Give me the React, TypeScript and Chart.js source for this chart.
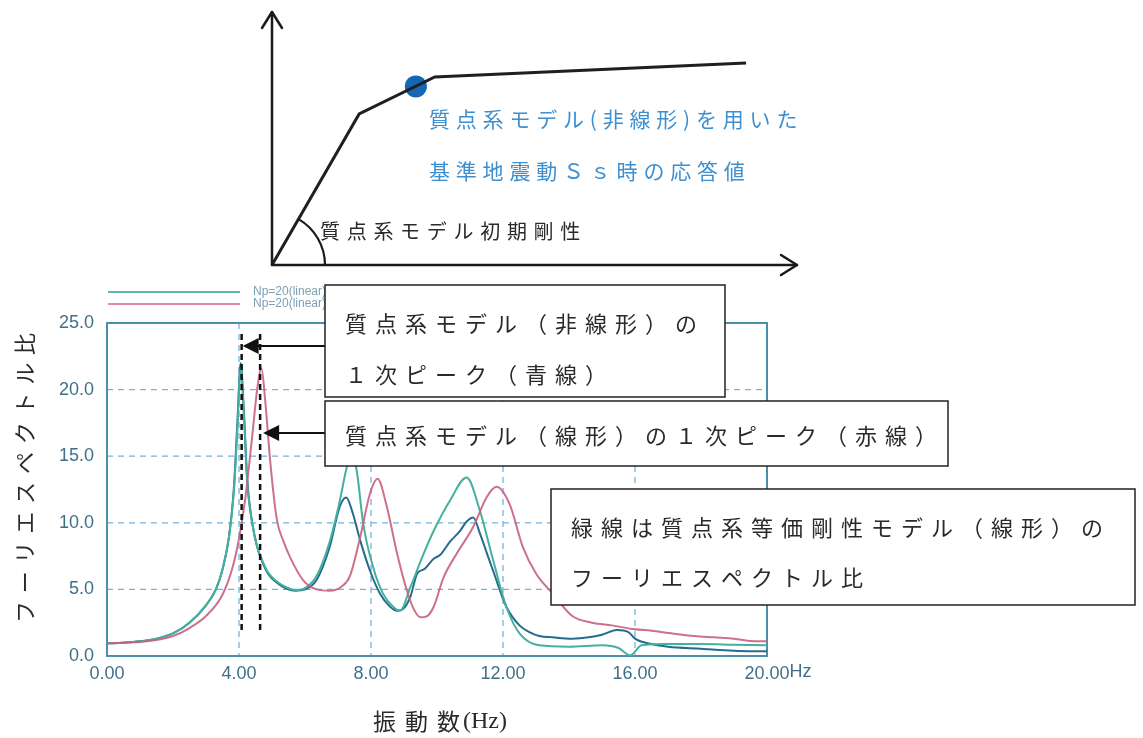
import React, { useEffect, useRef } from "react";
import { Chart, registerables } from "chart.js";
Chart.register(...registerables);

// ---------- data ----------
const freqTicks = [0, 4, 8, 12, 16, 20];
const ratioTicks = [0, 5, 10, 15, 20, 25];

// green: equivalent-stiffness linear model
const greenHz = [0, 0.5, 1, 1.5, 2, 2.5, 3, 3.3, 3.5, 3.7, 3.85, 3.95, 4.05, 4.15, 4.25, 4.4, 4.55, 4.7, 4.9, 5.15, 5.4, 5.7, 6.0, 6.35, 6.75, 7.05, 7.25, 7.42, 7.58, 7.76, 8.06, 8.36, 8.67, 8.88, 9.2, 9.55, 9.9, 10.4, 10.9, 11.3, 11.7, 12.1, 12.5, 13.1, 14, 15, 15.5, 15.85, 16.2, 17, 18, 19, 20];
const greenRatio = [0.95, 1.0, 1.1, 1.3, 1.7, 2.5, 3.8, 5.0, 6.5, 9.0, 12.5, 17, 21.6, 18, 13, 10, 8.2, 7.2, 6.2, 5.6, 5.2, 4.95, 5.1, 6.0, 8.6, 11.6, 14.0, 15.3, 13.7, 10.0, 6.7, 4.7, 3.7, 3.4, 5.2, 7.4, 9.4, 11.7, 13.4, 10.9, 7.2, 3.7, 1.7, 0.8, 0.7, 0.8, 0.6, 0.05, 0.8, 0.9, 0.9, 0.85, 0.8];

// blue: nonlinear model
const blueHz = [0, 0.5, 1, 1.5, 2, 2.5, 3, 3.3, 3.5, 3.7, 3.85, 3.95, 4.05, 4.15, 4.25, 4.4, 4.55, 4.7, 4.9, 5.15, 5.4, 5.7, 6.0, 6.35, 6.75, 7.05, 7.25, 7.45, 7.67, 7.97, 8.27, 8.58, 8.8, 9.0, 9.2, 9.4, 9.6, 9.9, 10.1, 10.4, 10.7, 10.9, 11.1, 11.3, 11.5, 11.7, 12.1, 12.5, 12.8, 13.1, 13.5, 14.1, 14.6, 15.0, 15.45, 15.8, 16.0, 16.5, 17, 18, 19, 20];
const blueRatio = [0.95, 1.0, 1.1, 1.3, 1.7, 2.5, 3.8, 5.0, 6.5, 9.0, 12.8, 17.5, 22.0, 18.3, 13.2, 10, 8.2, 7.1, 6.1, 5.5, 5.1, 4.9, 5.0, 5.7, 8.2, 11.2, 11.9, 10.7, 8.7, 6.4, 4.7, 3.7, 3.4, 3.6, 4.5, 6.2, 6.5, 7.3, 7.6, 8.6, 9.4, 10.1, 10.4, 9.2, 7.8, 6.4, 3.7, 2.3, 1.8, 1.5, 1.4, 1.3, 1.4, 1.6, 1.95, 1.8, 1.3, 0.9, 0.7, 0.55, 0.4, 0.35];

// red: linear model
const redHz = [0, 0.5, 1, 1.5, 2, 2.5, 3, 3.5, 3.8, 4.0, 4.2, 4.4, 4.55, 4.68, 4.8, 4.95, 5.15, 5.35, 5.55, 5.94, 6.35, 6.75, 7.1, 7.36, 7.67, 7.97, 8.2, 8.48, 8.79, 9.09, 9.3, 9.5, 9.7, 9.9, 10.2, 10.6, 11.1, 11.5, 11.8, 12.2, 12.6, 13.0, 13.5, 14.1, 14.7, 15.3, 16.0, 16.5, 17.1, 17.8, 18.4, 19.0, 19.7, 20];
const redRatio = [0.95, 1.0, 1.05, 1.2, 1.5, 2.1, 3.0, 4.6, 6.6, 8.8, 12, 16.5, 20, 21.6, 19, 14.5, 10.2, 8.6, 7.4, 5.7, 5.0, 4.9, 5.2, 6.0, 8.9, 12.2, 13.3, 11.2, 7.7, 4.9, 3.5, 2.9, 3.0, 3.7, 5.9, 7.7, 9.7, 11.9, 12.7, 11.4, 8.2, 6.2, 4.7, 3.0, 2.5, 2.3, 2.0, 1.9, 1.7, 1.5, 1.4, 1.3, 1.1, 1.1];

const peakHz = [4.08, 4.64];

// skeleton curve (upper sketch), arbitrary units 0..100
const skeletonX = [0, 16.6, 31.0, 90.3];
const skeletonY = [0, 59.7, 74.3, 79.8];
const responseX = [27.4];
const responseY = [70.6];

const legendLabels = ["Np=20(linear)", "Np=20(linear)"];
const yTitle = "フーリエスペクトル比";
const xTitleJp = "振動数";
const xTitleUnit = "(Hz)";
const xUnitSuffix = "Hz";
const box1Lines = ["質点系モデル（非線形）の", "１次ピーク（青線）"];
const box2Lines = ["質点系モデル（線形）の１次ピーク（赤線）"];
const box3Lines = ["緑線は質点系等価剛性モデル（線形）の", "フーリエスペクトル比"];
const topBlueLines = ["質点系モデル(非線形)を用いた", "基準地震動Ｓｓ時の応答値"];
const topBlackLabel = "質点系モデル初期剛性";

// ---------- helpers ----------
const JP = '"Noto Sans CJK JP", sans-serif';
const SERIF = '"Liberation Serif", serif';
const TICK_FONT = '"Liberation Sans", sans-serif';
const TICK_COLOR = "#3f7088";
const TICK_SIZE = 18;

function spacedWidth(ctx: CanvasRenderingContext2D, text: string, spacing: number) {
  let w = 0;
  for (const ch of Array.from(text)) w += ctx.measureText(ch).width + spacing;
  return w - spacing;
}
function drawSpaced(ctx: CanvasRenderingContext2D, text: string, x: number, y: number, spacing: number) {
  let cx = x;
  for (const ch of Array.from(text)) {
    ctx.fillText(ch, cx, y);
    cx += ctx.measureText(ch).width + spacing;
  }
  return cx;
}
function seg(ctx: CanvasRenderingContext2D, pts: number[][]) {
  ctx.beginPath();
  ctx.moveTo(pts[0][0], pts[0][1]);
  for (let i = 1; i < pts.length; i++) ctx.lineTo(pts[i][0], pts[i][1]);
  ctx.stroke();
}
function textBox(ctx: CanvasRenderingContext2D, x: number, y: number, w: number, h: number, lines: string[], ys: number[]) {
  ctx.fillStyle = "#ffffff";
  ctx.fillRect(x, y, w, h);
  ctx.strokeStyle = "#222";
  ctx.lineWidth = 1.5;
  ctx.strokeRect(x, y, w, h);
  ctx.fillStyle = "#2a2a2a";
  ctx.font = `22px ${JP}`;
  ctx.textBaseline = "middle";
  ctx.textAlign = "left";
  lines.forEach((ln, i) => drawSpaced(ctx, ln, x + 20, ys[i], 8.0));
}
function leftArrow(ctx: CanvasRenderingContext2D, fromX: number, tipX: number, y: number) {
  ctx.strokeStyle = "#111";
  ctx.lineWidth = 2;
  seg(ctx, [[fromX, y], [tipX + 14, y]]);
  ctx.fillStyle = "#111";
  ctx.beginPath();
  ctx.moveTo(tipX, y);
  ctx.lineTo(tipX + 16, y - 8);
  ctx.lineTo(tipX + 16, y + 8);
  ctx.closePath();
  ctx.fill();
}

const mainDecor = {
  id: "mainDecor",
  beforeDatasetsDraw(chart: any) {
    const { ctx, chartArea: a, scales } = chart;
    const x = scales.x, y = scales.y;
    ctx.save();
    ctx.strokeStyle = "#72b4dc";
    ctx.lineWidth = 1.3;
    ctx.setLineDash([6, 5]);
    freqTicks.forEach((v) => {
      if (v > freqTicks[0] && v < freqTicks[freqTicks.length - 1]) {
        const px = x.getPixelForValue(v);
        seg(ctx, [[px, a.top], [px, a.bottom]]);
      }
    });
    ratioTicks.forEach((v) => {
      if (v > ratioTicks[0] && v < ratioTicks[ratioTicks.length - 1]) {
        const py = y.getPixelForValue(v);
        seg(ctx, [[a.left, py], [a.right, py]]);
      }
    });
    ctx.setLineDash([]);
    ctx.strokeStyle = "#4b8fab";
    ctx.lineWidth = 2;
    ctx.strokeRect(a.left, a.top, a.right - a.left, a.bottom - a.top);
    // legend
    const legendColors = ["#5fb8a8", "#e08aa0"];
    legendLabels.forEach((lab, i) => {
      const ly = a.top - 31 + i * 12;
      ctx.strokeStyle = legendColors[i];
      ctx.lineWidth = 2;
      seg(ctx, [[a.left + 1, ly], [a.left + 133, ly]]);
      ctx.fillStyle = "#7d9fb5";
      ctx.font = `12px "Liberation Sans", sans-serif`;
      ctx.textBaseline = "middle";
      ctx.fillText(lab, a.left + 146, ly);
    });
    ctx.restore();
  },
  afterDatasetsDraw(chart: any) {
    const { ctx, chartArea: a, scales } = chart;
    const x = scales.x;
    ctx.save();
    // dashed peak markers
    ctx.strokeStyle = "#111";
    ctx.lineWidth = 2.5;
    ctx.setLineDash([6, 4]);
    peakHz.forEach((hz) => {
      const px = x.getPixelForValue(hz);
      seg(ctx, [[px, a.top + 11], [px, a.bottom - 26]]);
    });
    ctx.setLineDash([]);
    // arrows
    leftArrow(ctx, 325, x.getPixelForValue(peakHz[0]) + 1, 346);
    leftArrow(ctx, 325, x.getPixelForValue(peakHz[1]) + 3, 433);
    // boxes
    textBox(ctx, 325, 285, 400, 112, box1Lines, [324, 375]);
    textBox(ctx, 325, 401, 623, 65, box2Lines, [436]);
    textBox(ctx, 551, 489, 584, 116, box3Lines, [528, 578]);
    // y title
    ctx.fillStyle = "#2a2a2a";
    ctx.font = `22px ${JP}`;
    ctx.textBaseline = "middle";
    ctx.textAlign = "left";
    ctx.save();
    ctx.translate(25, 478);
    ctx.rotate(-Math.PI / 2);
    const wy = spacedWidth(ctx, yTitle, 7.8);
    drawSpaced(ctx, yTitle, -wy / 2, 0, 7.8);
    ctx.restore();
    // x title
    ctx.font = `23px ${JP}`;
    const wJp = spacedWidth(ctx, xTitleJp, 9) + 3;
    ctx.font = `24px ${SERIF}`;
    const wUnit = ctx.measureText(xTitleUnit).width;
    const startX = 440 - (wJp + wUnit) / 2;
    ctx.font = `23px ${JP}`;
    drawSpaced(ctx, xTitleJp, startX, 721, 9);
    ctx.font = `24px ${SERIF}`;
    ctx.fillText(xTitleUnit, startX + wJp, 722);
    ctx.restore();
  },
  afterDraw(chart: any) {
    const { ctx, scales } = chart;
    const x = scales.x;
    const lastTick = x.ticks[x.ticks.length - 1];
    ctx.save();
    ctx.font = `${TICK_SIZE}px ${TICK_FONT}`;
    ctx.fillStyle = TICK_COLOR;
    const lw = ctx.measureText(String(lastTick.label)).width;
    ctx.textAlign = "left";
    ctx.textBaseline = "middle";
    ctx.fillText(xUnitSuffix, x.getPixelForValue(lastTick.value) + lw / 2, 672);
    ctx.restore();
  },
};

const topDecor = {
  id: "topDecor",
  beforeDatasetsDraw(chart: any) {
    const { ctx, scales } = chart;
    const x = scales.x, y = scales.y;
    const ox = x.getPixelForValue(0), oy = y.getPixelForValue(0);
    const xe = x.getPixelForValue(100), ye = y.getPixelForValue(100);
    ctx.save();
    ctx.strokeStyle = "#1a1a1a";
    ctx.lineWidth = 2.5;
    ctx.lineCap = "round";
    ctx.lineJoin = "round";
    seg(ctx, [[ox, oy], [ox, ye]]);
    seg(ctx, [[ox - 10, ye + 16], [ox, ye], [ox + 10, ye + 16]]);
    seg(ctx, [[ox, oy], [xe, oy]]);
    seg(ctx, [[xe - 16, oy - 10], [xe, oy], [xe - 16, oy + 10]]);
    const k1x = x.getPixelForValue(skeletonX[1]), k1y = y.getPixelForValue(skeletonY[1]);
    const ang = Math.atan2(k1y - oy, k1x - ox);
    ctx.lineWidth = 2.2;
    ctx.beginPath();
    ctx.arc(ox, oy, 53, ang, 0);
    ctx.stroke();
    ctx.restore();
  },
  afterDraw(chart: any) {
    const { ctx } = chart;
    ctx.save();
    ctx.textBaseline = "middle";
    ctx.textAlign = "left";
    ctx.fillStyle = "#3d8fd0";
    ctx.font = `21px ${JP}`;
    drawSpaced(ctx, topBlueLines[0], 429, 119, 5.8);
    drawSpaced(ctx, topBlueLines[1], 429, 171, 5.8);
    ctx.fillStyle = "#2a2a2a";
    ctx.font = `20px ${JP}`;
    drawSpaced(ctx, topBlackLabel, 320, 231, 6.7);
    ctx.restore();
  },
};

function toPts(xs: number[], ys: number[]) {
  return xs.map((v, i) => ({ x: v, y: ys[i] }));
}

export default function App() {
  const mainRef = useRef<HTMLCanvasElement>(null);
  const topRef = useRef<HTMLCanvasElement>(null);

  useEffect(() => {
    document.body.style.margin = "0";
    const tickFont = { family: TICK_FONT, size: TICK_SIZE };
    const main = new Chart(mainRef.current as HTMLCanvasElement, {
      type: "line",
      data: {
        datasets: [
          { label: "red", data: toPts(redHz, redRatio), borderColor: "rgba(200,96,128,0.9)", borderWidth: 2, pointRadius: 0, cubicInterpolationMode: "monotone" },
          { label: "green", data: toPts(greenHz, greenRatio), borderColor: "#45b09e", borderWidth: 2, pointRadius: 0, cubicInterpolationMode: "monotone" },
          { label: "blue", data: toPts(blueHz, blueRatio), borderColor: "#236c8e", borderWidth: 2, pointRadius: 0, cubicInterpolationMode: "monotone" },
        ],
      },
      options: {
        animation: false,
        responsive: false,
        devicePixelRatio: 1,
        parsing: false,
        layout: { padding: { left: 0, top: 323, right: 376, bottom: 0 } },
        plugins: { legend: { display: false }, tooltip: { enabled: false }, title: { display: false } },
        scales: {
          x: {
            type: "linear",
            min: 0,
            max: 20,
            afterFit: (s: any) => { s.height = 82; },
            afterBuildTicks: (s: any) => { s.ticks = freqTicks.map((v) => ({ value: v })); },
            ticks: {
              padding: -1, font: tickFont, color: TICK_COLOR, maxRotation: 0, autoSkip: false,
              callback: (v: any) => Number(v).toFixed(2),
            },
            grid: { display: false },
            border: { display: false },
          },
          y: {
            type: "linear",
            min: 0,
            max: 25,
            afterFit: (s: any) => { s.width = 107; },
            afterBuildTicks: (s: any) => { s.ticks = ratioTicks.map((v) => ({ value: v })); },
            ticks: { padding: 5, font: tickFont, color: TICK_COLOR, autoSkip: false, callback: (v: any) => Number(v).toFixed(1) },
            grid: { display: false },
            border: { display: false },
          },
        },
      },
      plugins: [mainDecor],
    } as any);

    const top = new Chart(topRef.current as HTMLCanvasElement, {
      type: "line",
      data: {
        datasets: [
          { label: "skeleton", data: toPts(skeletonX, skeletonY), borderColor: "#1f1f1f", borderWidth: 3, pointRadius: 0, tension: 0 },
          { type: "scatter", label: "response", data: toPts(responseX, responseY), backgroundColor: "#1567b5", borderWidth: 0, pointRadius: 11 },
        ],
      },
      options: {
        animation: false,
        responsive: false,
        devicePixelRatio: 1,
        layout: { padding: { left: 272, top: 12, right: 346, bottom: 473 } },
        plugins: { legend: { display: false }, tooltip: { enabled: false } },
        scales: {
          x: { type: "linear", min: 0, max: 100, display: false },
          y: { type: "linear", min: 0, max: 100, display: false },
        },
      },
      plugins: [topDecor],
    } as any);

    return () => {
      main.destroy();
      top.destroy();
    };
  }, []);

  return (
    <div style={{ position: "fixed", left: 0, top: 0, width: 1143, height: 738, background: "#fff" }}>
      <canvas ref={mainRef} width={1143} height={738} style={{ position: "absolute", left: 0, top: 0, display: "block" }} />
      <canvas ref={topRef} width={1143} height={738} style={{ position: "absolute", left: 0, top: 0, display: "block" }} />
    </div>
  );
}
